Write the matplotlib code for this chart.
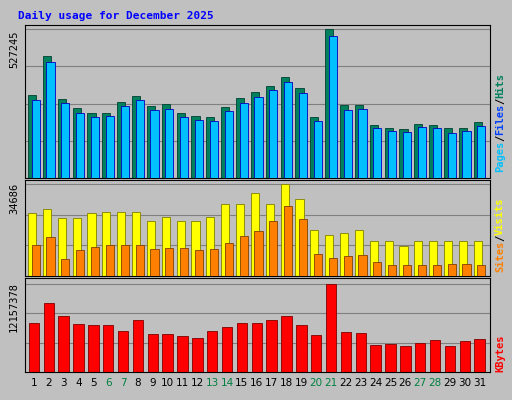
import numpy as np
import matplotlib
matplotlib.use("Agg")
import matplotlib.pyplot as plt

days = list(range(1, 32))
weekend = [6, 7, 13, 14, 20, 21, 27, 28]
hits = [293700, 431700, 279550, 247700, 230000, 230000, 268900, 290200, 254800, 261900,
        230000, 219400, 215900, 251200, 283100, 304300, 325600, 357400, 318500, 215900,
        527245, 258300, 258300, 187500, 176900, 173400, 191100, 187500, 176900, 176900, 198200]
files = [276000, 410500, 265400, 230000, 215900, 219400, 254800, 276000, 240600, 244200,
         215900, 205200, 201700, 237100, 265400, 286600, 311400, 339700, 300800, 201700,
         502500, 240600, 244200, 176900, 166300, 162800, 180500, 176900, 159200, 166300, 184000]
sites = [23750, 25260, 21870, 21870, 23750, 24130, 24130, 24130, 20740, 22240,
         20740, 20740, 22240, 27150, 27150, 31300, 27150, 34686, 29030, 17340,
         15460, 16210, 17340, 13190, 13190, 11310, 13190, 13190, 13190, 13190, 13190]
visits = [11690, 14700, 6410, 9800, 10930, 11690, 11690, 11690, 10180, 10560,
          10560, 9800, 10180, 12440, 15080, 16970, 20740, 26390, 21490, 8300,
          6790, 7540, 7920, 5280, 4150, 4150, 4150, 4150, 4520, 4520, 4150]
kbytes = [6770000, 9530000, 7740000, 6630000, 6490000, 6490000, 5660000, 7190000, 5250000, 5250000,
          4970000, 4700000, 5660000, 6220000, 6770000, 6770000, 7190000, 7740000, 6490000, 5110000,
          12157378, 5530000, 5390000, 3730000, 3870000, 3590000, 4010000, 4420000, 3590000, 4280000, 4560000]

BG = "#c0c0c0"
fig = plt.figure(figsize=(5.12, 4.0), dpi=100, facecolor=BG)
W, H = 512, 400


def panel(top, bot):
    ax = fig.add_axes([25 / W, 1 - bot / H, (490 - 25) / W, (bot - top) / H])
    ax.set_facecolor(BG)
    ax.set_xlim(0.4, 31.7)
    ax.set_xticks([])
    ax.set_yticks([])
    for s in ax.spines.values():
        s.set_color("#000000")
        s.set_linewidth(0.8)
    return ax


x = np.array(days)

ax1 = panel(25, 178)
ax1.set_ylim(0, 527245 * 153 / 149)
for g in np.linspace(0, 527245, 5)[1:]:
    ax1.axhline(g, color="#808080", lw=0.8, zorder=0)
ax1.bar(x - 0.12, hits, width=0.55, color="#00805c", edgecolor="#004030", lw=0.6, zorder=2)
ax1.bar(x + 0.12, files, width=0.55, color="#00c0ff", edgecolor="#0000c0", lw=0.6, zorder=3)

ax2 = panel(180, 276)
ax2.set_ylim(0, 34686 * 96 / 92)
for g in np.linspace(0, 34686, 4)[1:]:
    ax2.axhline(g, color="#808080", lw=0.8, zorder=0)
ax2.bar(x - 0.12, sites, width=0.55, color="#ffff00", edgecolor="#808000", lw=0.6, zorder=2)
ax2.bar(x + 0.12, visits, width=0.55, color="#ff8000", edgecolor="#804000", lw=0.6, zorder=3)

ax3 = panel(278, 372)
ax3.set_ylim(0, 12157378 * 94 / 88)
for g in np.linspace(0, 12157378, 4)[1:]:
    ax3.axhline(g, color="#808080", lw=0.8, zorder=0)
ax3.bar(x, kbytes, width=0.7, color="#ff0000", edgecolor="#800000", lw=0.6, zorder=2)
ax3.set_xticks(days)
ax3.set_xticklabels([str(d) for d in days], fontsize=7.5)
ax3.tick_params(length=0, pad=4)
for lab, d in zip(ax3.get_xticklabels(), days):
    lab.set_color("#008040" if d in weekend else "#000000")

fig.text(18 / W, 1 - 16 / H, "Daily usage for December 2025", color="#0000ff",
         fontsize=8, fontweight="bold", family="DejaVu Sans Mono", va="center")

for lbl, ytop in [("527245", 30), ("34686", 183), ("12157378", 282)]:
    fig.text(14 / W, 1 - ytop / H, lbl, rotation=90, fontsize=7.5, family="DejaVu Sans Mono",
             ha="center", va="top")


def side(parts, ybot):
    cw = 6.2
    y = ybot
    for t, c in parts:
        fig.text(500 / W, 1 - y / H, t, rotation=90, color=c, fontsize=7.5,
                 family="DejaVu Sans Mono", fontweight="bold", ha="center", va="bottom")
        y -= cw * len(t)


side([("Pages", "#00c0ff"), ("/", "#000000"), ("Files", "#0040ff"), ("/", "#000000"), ("Hits", "#00805c")], 172)
side([("Sites", "#ff8000"), ("/", "#000000"), ("Visits", "#ffff00")], 272)
side([("KBytes", "#ff0000")], 372)

fig.savefig("out.png", dpi=100, facecolor=BG)
